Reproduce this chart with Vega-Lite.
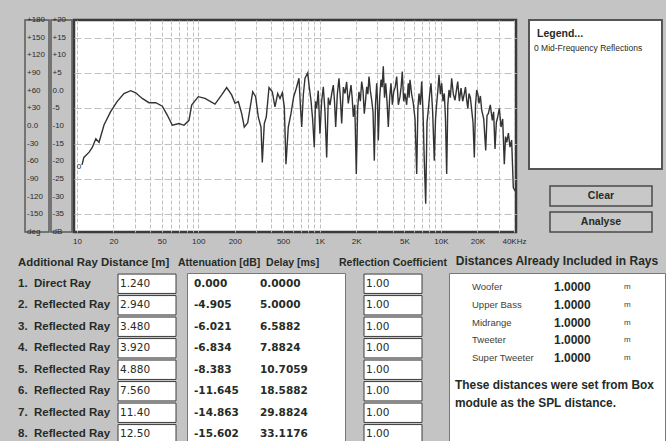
{
  "$schema": "https://vega.github.io/schema/vega-lite/v6.json",
  "background": "#c4c4c4",
  "padding": {"left": 18, "top": 14, "right": 0, "bottom": 0},
  "config": {
    "font": "Liberation Sans",
    "view": {"stroke": null},
    "text": {"color": "#262b26"},
    "title": {"color": "#262b26", "fontSize": 10.5, "fontWeight": "bold", "offset": 5}
  },
  "datasets": {
    "curve": [
      {"f": 11.0, "db": -21}, {"f": 11.4, "db": -18.9}, {"f": 12.6, "db": -17.4}, {"f": 13.4, "db": -16}, {"f": 14.3, "db": -13.6},
      {"f": 15.2, "db": -14.6}, {"f": 16.7, "db": -9.7}, {"f": 18.9, "db": -6}, {"f": 21.4, "db": -3.1}, {"f": 24.4, "db": -0.8},
      {"f": 27.7, "db": 0}, {"f": 30.5, "db": -0.6}, {"f": 34.5, "db": -2.2}, {"f": 39.2, "db": -3.4}, {"f": 44.6, "db": -3.4},
      {"f": 50.5, "db": -4.4}, {"f": 55.5, "db": -6.9}, {"f": 61.1, "db": -9.8}, {"f": 69.3, "db": -9.3}, {"f": 76.2, "db": -9.8},
      {"f": 83.8, "db": -8.4}, {"f": 88.2, "db": -4.1}, {"f": 100, "db": -1.7}, {"f": 113.6, "db": -2.2}, {"f": 137.3, "db": -3.8},
      {"f": 156, "db": -1.2}, {"f": 171.4, "db": 0.9}, {"f": 188.4, "db": -1.2}, {"f": 200.7, "db": -3.6}, {"f": 213.8, "db": -3.1},
      {"f": 228, "db": -6.5}, {"f": 239.5, "db": -10.3}, {"f": 255.5, "db": -9.1}, {"f": 281, "db": -0.3}, {"f": 297, "db": -1.7},
      {"f": 312.3, "db": -7.4}, {"f": 328.8, "db": -10.3}, {"f": 337, "db": -20.3}, {"f": 350, "db": -9.3}, {"f": 363.7, "db": -7.4},
      {"f": 382.8, "db": 0.9}, {"f": 407.4, "db": -0.3}, {"f": 428.8, "db": -4.6}, {"f": 451.5, "db": -0.8}, {"f": 471.6, "db": -2.2},
      {"f": 492.7, "db": -0.6}, {"f": 511.7, "db": -4.6}, {"f": 528.4, "db": -20.8}, {"f": 552, "db": -10.3}, {"f": 580.8, "db": -6.5},
      {"f": 611.6, "db": -1.7}, {"f": 642.7, "db": 0.7}, {"f": 676.1, "db": 3.5}, {"f": 694, "db": -4}, {"f": 712, "db": -10.3},
      {"f": 735, "db": -1}, {"f": 758, "db": 3.5}, {"f": 798, "db": 5}, {"f": 822, "db": 1}, {"f": 849, "db": -2.7},
      {"f": 876, "db": -8}, {"f": 904, "db": -16}, {"f": 925, "db": -3}, {"f": 946, "db": -5}, {"f": 975, "db": 0},
      {"f": 1007, "db": -12.2}, {"f": 1040, "db": -3}, {"f": 1073, "db": 1.1}, {"f": 1108, "db": -6}, {"f": 1144, "db": -18.9},
      {"f": 1180, "db": -2}, {"f": 1218, "db": -4.1}, {"f": 1257, "db": -1}, {"f": 1297, "db": 1.6}, {"f": 1327, "db": -3},
      {"f": 1357, "db": -10.3}, {"f": 1400, "db": -1}, {"f": 1445, "db": 3.5}, {"f": 1482, "db": -2}, {"f": 1521, "db": -9.3},
      {"f": 1570, "db": 1}, {"f": 1620, "db": -0.8}, {"f": 1670, "db": 2.5}, {"f": 1724, "db": -3.6}, {"f": 1770, "db": -1},
      {"f": 1816, "db": 1.6}, {"f": 1856, "db": -2}, {"f": 1897, "db": -7.4}, {"f": 1950, "db": -4}, {"f": 2007, "db": -23.6},
      {"f": 2060, "db": -5}, {"f": 2113, "db": -0.3}, {"f": 2168, "db": -3}, {"f": 2223, "db": 2.6}, {"f": 2280, "db": 0},
      {"f": 2336, "db": -6.5}, {"f": 2390, "db": -3}, {"f": 2445, "db": 1.1}, {"f": 2500, "db": -1}, {"f": 2554, "db": 4},
      {"f": 2620, "db": 0}, {"f": 2689, "db": -2.7}, {"f": 2757, "db": -6}, {"f": 2825, "db": -19.8}, {"f": 2890, "db": -4},
      {"f": 2956, "db": 2.1}, {"f": 3000, "db": -3}, {"f": 3048, "db": -14.1}, {"f": 3128, "db": -2}, {"f": 3208, "db": 3.1},
      {"f": 3280, "db": 1}, {"f": 3350, "db": 6.9}, {"f": 3430, "db": -2}, {"f": 3508, "db": 2.1}, {"f": 3595, "db": -3},
      {"f": 3685, "db": -10.3}, {"f": 3780, "db": -2}, {"f": 3878, "db": 2.1}, {"f": 3980, "db": -4}, {"f": 4083, "db": -0.3},
      {"f": 4200, "db": 1}, {"f": 4321, "db": 4}, {"f": 4460, "db": -4}, {"f": 4600, "db": -1.7}, {"f": 4700, "db": 1},
      {"f": 4806, "db": 5.4}, {"f": 4930, "db": -3}, {"f": 5058, "db": -0.8}, {"f": 5220, "db": -4}, {"f": 5386, "db": 2.1},
      {"f": 5470, "db": -2}, {"f": 5561, "db": 3.1}, {"f": 5740, "db": -1}, {"f": 5923, "db": -3.6}, {"f": 6120, "db": -8},
      {"f": 6318, "db": -23.6}, {"f": 6460, "db": -5}, {"f": 6600, "db": -0.8}, {"f": 6770, "db": -4}, {"f": 6945, "db": 2.6},
      {"f": 7120, "db": -6}, {"f": 7295, "db": -19.8}, {"f": 7494, "db": -32}, {"f": 7680, "db": -9}, {"f": 7870, "db": -5.5},
      {"f": 8080, "db": -1}, {"f": 8287, "db": 2.1}, {"f": 8550, "db": -6}, {"f": 8823, "db": -19.8}, {"f": 9030, "db": -8},
      {"f": 9235, "db": -3.6}, {"f": 9440, "db": 0}, {"f": 9647, "db": 4.5}, {"f": 9900, "db": -1}, {"f": 10150, "db": 2.1},
      {"f": 10400, "db": -3}, {"f": 10670, "db": -0.8}, {"f": 10910, "db": -8}, {"f": 11160, "db": -23.6}, {"f": 11400, "db": -4},
      {"f": 11660, "db": 0.2}, {"f": 11960, "db": -2}, {"f": 12270, "db": 3.5}, {"f": 12660, "db": -1}, {"f": 13070, "db": -2.7},
      {"f": 13410, "db": 0}, {"f": 13760, "db": 2.6}, {"f": 14200, "db": -3}, {"f": 14650, "db": 0.7}, {"f": 15120, "db": -3},
      {"f": 15600, "db": -0.8}, {"f": 15950, "db": 1}, {"f": 16320, "db": -2.7}, {"f": 16680, "db": -5}, {"f": 17050, "db": -0.8},
      {"f": 17500, "db": -2}, {"f": 17950, "db": -5.5}, {"f": 18400, "db": -9}, {"f": 18860, "db": -18.9}, {"f": 19300, "db": -4},
      {"f": 19730, "db": 0.2}, {"f": 20170, "db": -1}, {"f": 20610, "db": -3.6}, {"f": 21150, "db": -1.5}, {"f": 21700, "db": -5.5},
      {"f": 22540, "db": -8}, {"f": 23410, "db": -16.9}, {"f": 24000, "db": -7}, {"f": 24590, "db": -6.5}, {"f": 25540, "db": -4},
      {"f": 26530, "db": -8.4}, {"f": 27200, "db": -6}, {"f": 27930, "db": -16.5}, {"f": 28650, "db": -9}, {"f": 29400, "db": -7.4},
      {"f": 30330, "db": -5}, {"f": 31300, "db": -10.3}, {"f": 32300, "db": -8}, {"f": 33320, "db": -20.8}, {"f": 34100, "db": -13},
      {"f": 34880, "db": -14.6}, {"f": 36000, "db": -12}, {"f": 37130, "db": -16}, {"f": 38300, "db": -14}, {"f": 39530, "db": -27.4},
      {"f": 40830, "db": -28.4}
    ],
    "series": [{"f": 10.4, "db": -21.6, "label": "0"}],
    "deg": [
      {"t": "+180", "v": 20}, {"t": "+150", "v": 15}, {"t": "+120", "v": 10}, {"t": "+90", "v": 5}, {"t": "+60", "v": 0},
      {"t": "+30", "v": -5}, {"t": "0.0", "v": -10}, {"t": "-30", "v": -15}, {"t": "-60", "v": -20}, {"t": "-90", "v": -25},
      {"t": "-120", "v": -30}, {"t": "-150", "v": -35}, {"t": "deg", "v": -40}
    ],
    "dbl": [
      {"t": "+20", "v": 20}, {"t": "+15", "v": 15}, {"t": "+10", "v": 10}, {"t": "+5", "v": 5}, {"t": "0.0", "v": 0},
      {"t": "-5", "v": -5}, {"t": "-10", "v": -10}, {"t": "-15", "v": -15}, {"t": "-20", "v": -20}, {"t": "-25", "v": -25},
      {"t": "-30", "v": -30}, {"t": "-35", "v": -35}, {"t": "dB", "v": -40}
    ],
    "legend": [{"line": 1, "text": "Legend..."}, {"line": 2, "text": "0  Mid-Frequency Reflections"}],
    "buttons": [{"b": "Clear", "col": "buttons"}, {"b": "Analyse", "col": "buttons"}],
    "rays": [
      {"row": 1, "label": "1.\u00a0 Direct Ray", "dist": "1.240", "att": "0.000", "delay": "0.0000", "coef": "1.00"},
      {"row": 2, "label": "2.\u00a0 Reflected Ray", "dist": "2.940", "att": "-4.905", "delay": "5.0000", "coef": "1.00"},
      {"row": 3, "label": "3.\u00a0 Reflected Ray", "dist": "3.480", "att": "-6.021", "delay": "6.5882", "coef": "1.00"},
      {"row": 4, "label": "4.\u00a0 Reflected Ray", "dist": "3.920", "att": "-6.834", "delay": "7.8824", "coef": "1.00"},
      {"row": 5, "label": "5.\u00a0 Reflected Ray", "dist": "4.880", "att": "-8.383", "delay": "10.7059", "coef": "1.00"},
      {"row": 6, "label": "6.\u00a0 Reflected Ray", "dist": "7.560", "att": "-11.645", "delay": "18.5882", "coef": "1.00"},
      {"row": 7, "label": "7.\u00a0 Reflected Ray", "dist": "11.40", "att": "-14.863", "delay": "29.8824", "coef": "1.00"},
      {"row": 8, "label": "8.\u00a0 Reflected Ray", "dist": "12.50", "att": "-15.602", "delay": "33.1176", "coef": "1.00"}
    ],
    "drivers": [
      {"line": 1, "name": "Woofer", "value": "1.0000", "unit": "m"},
      {"line": 2, "name": "Upper Bass", "value": "1.0000", "unit": "m"},
      {"line": 3, "name": "Midrange", "value": "1.0000", "unit": "m"},
      {"line": 4, "name": "Tweeter", "value": "1.0000", "unit": "m"},
      {"line": 5, "name": "Super Tweeter", "value": "1.0000", "unit": "m"}
    ],
    "note": [
      {"line": 6, "text": "These distances were set from Box"},
      {"line": 7, "text": "module as the SPL distance."}
    ]
  },
  "vconcat": [
    {
      "hconcat": [
        {
          "hconcat": [
            {"width": 5, "height": 212, "data": {"values": []}, "mark": "point"},
            {
              "width": 24, "height": 212,
              "view": {"stroke": "#5a5a5a", "strokeWidth": 1.5},
              "data": {"name": "deg"},
              "mark": {"type": "text", "align": "left", "dx": -10, "fontSize": 8, "color": "#2a2a2a"},
              "encoding": {
                "y": {"field": "v", "type": "quantitative", "scale": {"domain": [-40, 20], "nice": false}, "axis": null},
                "text": {"field": "t"}
              }
            },
            {
              "width": 21, "height": 212,
              "view": {"stroke": "#5a5a5a", "strokeWidth": 1.5},
              "data": {"name": "dbl"},
              "mark": {"type": "text", "align": "left", "dx": -9, "fontSize": 8, "color": "#2a2a2a"},
              "encoding": {
                "y": {"field": "v", "type": "quantitative", "scale": {"domain": [-40, 20], "nice": false}, "axis": null},
                "text": {"field": "t"}
              }
            },
            {
              "width": 442, "height": 212,
              "view": {"fill": "white", "stroke": "#3a3a3a", "strokeWidth": 2.5},
              "layer": [
                {
                  "data": {"name": "curve"},
                  "mark": {"type": "line", "color": "#333333", "strokeWidth": 1.4, "clip": true},
                  "encoding": {
                    "x": {
                      "field": "f", "type": "quantitative",
                      "scale": {"type": "log", "domain": [9.45, 41600], "nice": false},
                      "axis": {
                        "title": null,
                        "values": [10, 20, 30, 40, 50, 60, 70, 80, 90, 100, 200, 300, 400, 500, 600, 700, 800, 900, 1000, 2000, 3000, 4000, 5000, 6000, 7000, 8000, 9000, 10000, 20000, 30000, 40000],
                        "labelExpr": "datum.value == 10 ? '10' : datum.value == 20 ? '20' : datum.value == 50 ? '50' : datum.value == 100 ? '100' : datum.value == 200 ? '200' : datum.value == 500 ? '500' : datum.value == 1000 ? '1K' : datum.value == 2000 ? '2K' : datum.value == 5000 ? '5K' : datum.value == 10000 ? '10K' : datum.value == 20000 ? '20K' : datum.value == 40000 ? '40KHz' : ''",
                        "labelOverlap": false, "labelFlush": false, "labelFontSize": 8, "labelColor": "#2a2a2a", "labelPadding": 5,
                        "ticks": false, "domain": false,
                        "grid": true, "gridColor": "#c0c0c0", "gridDash": [4, 2], "gridWidth": 1
                      }
                    },
                    "y": {
                      "field": "db", "type": "quantitative",
                      "scale": {"domain": [-40, 20], "nice": false},
                      "axis": {
                        "title": null, "values": [-35, -30, -25, -20, -15, -10, -5, 0, 5, 10, 15],
                        "labels": false, "ticks": false, "domain": false,
                        "grid": true, "gridColor": "#c0c0c0", "gridDash": [7, 3], "gridWidth": 1
                      }
                    }
                  }
                },
                {
                  "data": {"name": "series"},
                  "mark": {"type": "text", "fontSize": 8, "color": "#2a2a2a"},
                  "encoding": {
                    "x": {"field": "f", "type": "quantitative"},
                    "y": {"field": "db", "type": "quantitative"},
                    "text": {"field": "label"}
                  }
                }
              ]
            }
          ],
          "spacing": 2,
          "bounds": "flush"
        },
        {
          "vconcat": [
            {
              "width": 133, "height": 149,
              "title": {"text": "\u00a0", "fontSize": 1, "offset": 4},
              "view": {"fill": "white", "stroke": "#555555", "strokeWidth": 2},
              "data": {"name": "legend"},
              "encoding": {
                "y": {"field": "line", "type": "ordinal", "scale": {"type": "point", "domain": [1, 2], "range": [14, 27.5], "padding": 0}, "axis": null},
                "text": {"field": "text"}
              },
              "layer": [
                {"transform": [{"filter": "datum.line == 1"}], "mark": {"type": "text", "align": "left", "dx": -58.5, "fontSize": 10.5, "fontWeight": "bold"}},
                {"transform": [{"filter": "datum.line == 2"}], "mark": {"type": "text", "align": "left", "dx": -61.5, "fontSize": 8.5}}
              ]
            },
            {
              "width": 133, "height": 46,
              "data": {"name": "buttons"},
              "encoding": {
                "x": {"field": "col", "type": "nominal", "scale": {"type": "band", "paddingInner": 0, "paddingOuter": 0.152, "align": 0.677}, "axis": null},
                "y": {"field": "b", "type": "nominal", "scale": {"type": "band", "domain": ["Clear", "Analyse"], "paddingInner": 0.2308, "paddingOuter": 0}, "axis": null}
              },
              "layer": [
                {"mark": {"type": "rect", "fill": "#c8c8c8", "stroke": "#4a4a4a", "strokeWidth": 1.5}},
                {"mark": {"type": "text", "fontSize": 10.5, "fontWeight": "bold"}, "encoding": {"text": {"field": "b"}}}
              ]
            }
          ],
          "spacing": 17,
          "bounds": "flush"
        }
      ],
      "spacing": 0
    },
    {
      "hconcat": [
        {
          "width": 98, "height": 172,
          "title": {"text": "Additional Ray Distance [m]", "anchor": "start", "fontSize": 11.4},
          "data": {"name": "rays"},
          "mark": {"type": "text", "align": "left", "dx": -49, "fontSize": 11.5, "fontWeight": "bold"},
          "encoding": {
            "y": {"field": "row", "type": "ordinal", "scale": {"type": "band", "paddingInner": 0.1, "paddingOuter": 0.05}, "axis": null},
            "text": {"field": "label"}
          }
        },
        {"width": 2, "height": 172, "data": {"values": []}, "mark": "point"},
        {
          "width": 58, "height": 172,
          "data": {"name": "rays"},
          "encoding": {
            "y": {"field": "row", "type": "ordinal", "scale": {"type": "band", "paddingInner": 0.1, "paddingOuter": 0.05}, "axis": null}
          },
          "layer": [
            {"mark": {"type": "rect", "fill": "white", "stroke": "#3c3c3c", "strokeWidth": 1}},
            {"mark": {"type": "text", "align": "left", "dx": -27, "fontSize": 10.5, "font": "DejaVu Sans"}, "encoding": {"text": {"field": "dist"}}}
          ]
        },
        {"width": 11, "height": 172, "data": {"values": []}, "mark": "point"},
        {
          "width": 158, "height": 172,
          "view": {"fill": "white", "stroke": "#777777", "strokeWidth": 1},
          "title": {"text": "Attenuation [dB]\u00a0 Delay [ms]", "anchor": "start", "dx": -9},
          "data": {"name": "rays"},
          "encoding": {
            "y": {"field": "row", "type": "ordinal", "scale": {"type": "band", "paddingInner": 0.1, "paddingOuter": 0.05}, "axis": null}
          },
          "layer": [
            {"mark": {"type": "text", "align": "left", "dx": -72, "fontSize": 10.5, "fontWeight": "bold", "font": "DejaVu Sans"}, "encoding": {"text": {"field": "att"}}},
            {"mark": {"type": "text", "align": "left", "dx": -6, "fontSize": 10.5, "fontWeight": "bold", "font": "DejaVu Sans"}, "encoding": {"text": {"field": "delay"}}}
          ]
        },
        {"width": 19, "height": 172, "data": {"values": []}, "mark": "point"},
        {
          "width": 58, "height": 172,
          "title": {"text": "Reflection Coefficient", "anchor": "middle"},
          "data": {"name": "rays"},
          "encoding": {
            "y": {"field": "row", "type": "ordinal", "scale": {"type": "band", "paddingInner": 0.1, "paddingOuter": 0.05}, "axis": null}
          },
          "layer": [
            {"mark": {"type": "rect", "fill": "white", "stroke": "#3c3c3c", "strokeWidth": 1}},
            {"mark": {"type": "text", "align": "left", "dx": -27, "fontSize": 10.5, "font": "DejaVu Sans"}, "encoding": {"text": {"field": "coef"}}}
          ]
        },
        {"width": 27, "height": 172, "data": {"values": []}, "mark": "point"},
        {
          "width": 216, "height": 172,
          "view": {"fill": "white", "stroke": "#777777", "strokeWidth": 1},
          "title": {"text": "Distances Already Included in Rays", "anchor": "middle", "fontSize": 12},
          "layer": [
            {
              "data": {"name": "drivers"},
              "mark": {"type": "text", "align": "left", "dx": -85, "fontSize": 9.5, "color": "#3a3f3a"},
              "encoding": {
                "y": {"field": "line", "type": "ordinal", "scale": {"type": "point", "domain": [1, 2, 3, 4, 5, 6, 7], "range": [14, 120.8], "padding": 0}, "axis": null},
                "text": {"field": "name"}
              }
            },
            {
              "data": {"name": "drivers"},
              "mark": {"type": "text", "align": "left", "dx": -3, "fontSize": 12, "fontWeight": "bold"},
              "encoding": {"y": {"field": "line", "type": "ordinal"}, "text": {"field": "value"}}
            },
            {
              "data": {"name": "drivers"},
              "mark": {"type": "text", "align": "left", "dx": 67, "fontSize": 8, "color": "#3a3f3a"},
              "encoding": {"y": {"field": "line", "type": "ordinal"}, "text": {"field": "unit"}}
            },
            {
              "data": {"name": "note"},
              "mark": {"type": "text", "align": "left", "dx": -102, "dy": 9, "fontSize": 11.9, "fontWeight": "bold"},
              "encoding": {"y": {"field": "line", "type": "ordinal"}, "text": {"field": "text"}}
            }
          ]
        }
      ],
      "spacing": 0,
      "bounds": "flush"
    }
  ],
  "spacing": 7
}
